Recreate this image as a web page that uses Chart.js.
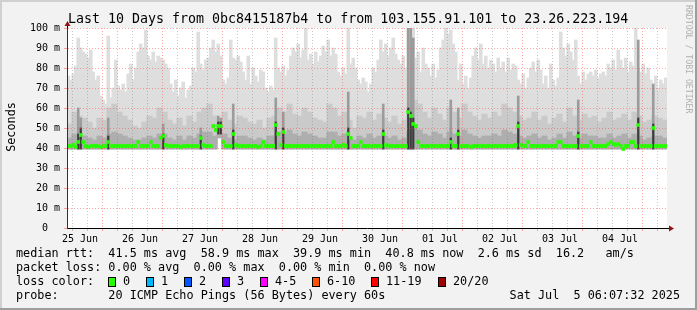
<!DOCTYPE html>
<html>
<head>
<meta charset="utf-8">
<script src="https://cdn.jsdelivr.net/npm/chart.js@4/dist/chart.umd.min.js"></script>
<style>
html, body { margin: 0; padding: 0; background: #f2f2f2; }
canvas { display: block; }
</style>
</head>
<body>
<canvas id="c" width="697" height="310" style="width:697px;height:310px"></canvas>
<script>
const MONO = '"DejaVu Sans Mono", monospace'
const SMOKE_FLOOR = 39.5

// hours are counted from the left edge of the graph, one value per hour
const dayLabels = ['25 Jun', '26 Jun', '27 Jun', '28 Jun', '29 Jun', '30 Jun', '01 Jul', '02 Jul', '03 Jul', '04 Jul']
const firstNoon = 5.2 // 25 Jun 12:00, in hours after graph start

// slowest of the 20 pings (ms), hourly
const maxRtt = [
	76, 74, 77, 81, 95, 90, 88, 87, 85, 89,
	78, 74, 76, 66, 64, 62, 96, 65, 70, 84,
	71, 69, 72, 68, 77, 82, 74, 80, 88, 92,
	90, 99, 86, 84, 88, 83, 86, 85, 84, 82,
	80, 72, 68, 74, 66, 70, 73, 65, 69, 71,
	80, 78, 98, 82, 79, 84, 85, 90, 94, 88,
	92, 86, 74, 72, 75, 94, 85, 84, 86, 83,
	78, 74, 86, 72, 80, 76, 73, 79, 78, 70,
	68, 71, 69, 95, 80, 78, 81, 76, 79, 86,
	90, 88, 92, 85, 89, 100, 84, 87, 82, 88,
	83, 86, 91, 88, 94, 86, 90, 87, 78, 76,
	80, 77, 100, 82, 85, 80, 74, 72, 75, 73,
	68, 72, 80, 78, 84, 94, 88, 92, 86, 90,
	95, 87, 84, 82, 86, 80, 100, 100, 100, 85,
	88, 78, 90, 82, 80, 76, 82, 75, 79, 90,
	94, 100, 97, 99, 92, 88, 74, 82, 72, 76,
	70, 75, 86, 90, 84, 92, 82, 86, 80, 84,
	82, 78, 85, 80, 83, 78, 85, 79, 82, 81,
	74, 72, 77, 70, 75, 80, 83, 78, 84, 79,
	72, 76, 70, 82, 74, 71, 75, 98, 90, 86,
	92, 88, 84, 94, 76, 72, 78, 74, 77, 78,
	76, 79, 75, 77, 78, 76, 82, 80, 84, 79,
	89, 84, 80, 85, 78, 83, 81, 100, 80, 78,
	82, 77, 80, 74, 72, 76, 70, 74, 72, 75
]

// upper part of the dense smoke (ms), two-hourly
const upperRtt = [
	52, 58, 56, 55, 53, 50, 55, 54, 60, 62,
	58, 56, 54, 51, 50, 53, 56, 55, 60, 58,
	54, 52, 55, 51, 56, 53, 58, 60, 62, 56,
	55, 58, 54, 52, 56, 55, 53, 52, 54, 50,
	55, 56, 60, 58, 62, 57, 56, 60, 58, 55,
	54, 53, 62, 60, 56, 58, 54, 50, 56, 55,
	58, 54, 57, 55, 53, 56, 52, 54, 60, 64,
	62, 58, 55, 60, 57, 54, 60, 58, 55, 62,
	58, 56, 54, 57, 55, 58, 56, 62, 60, 58,
	56, 54, 55, 58, 54, 56, 52, 55, 57, 53,
	60, 56, 54, 57, 55, 56, 53, 55, 58, 54,
	55, 57, 54, 58, 56, 53, 54, 56, 55, 54
]

// lower, darkest part of the smoke (ms), two-hourly
const lowerRtt = [
	45, 47, 46, 46, 45, 44, 46, 45, 47, 48,
	47, 46, 45, 44, 44, 45, 46, 45, 47, 47,
	45, 44, 46, 44, 46, 45, 47, 48, 48, 46,
	45, 47, 45, 44, 46, 46, 45, 44, 45, 44,
	46, 46, 48, 47, 49, 47, 46, 48, 47, 46,
	45, 45, 48, 48, 46, 47, 45, 44, 46, 45,
	47, 45, 46, 46, 45, 46, 44, 45, 48, 50,
	49, 47, 46, 48, 47, 45, 48, 47, 46, 49,
	47, 46, 45, 46, 46, 47, 46, 49, 48, 47,
	46, 45, 46, 47, 45, 46, 44, 45, 47, 45,
	48, 46, 45, 47, 46, 46, 45, 45, 47, 45,
	46, 47, 45, 47, 46, 44, 45, 46, 46, 45
]

// median rtt (ms), hourly
const medianRtt = [
	41, 41, 41.5, 40.5, 43, 46.5, 43, 41, 40.5, 41,
	41, 41, 41, 40.5, 41, 41, 43, 41, 41, 41,
	41, 41, 41, 41, 41, 41, 41, 41, 43, 41,
	41, 41, 41, 43, 41, 41, 41, 45, 46, 41.5,
	41, 41, 41, 41, 41, 40.5, 41, 41, 41, 41,
	41, 41, 41, 45, 41.5, 41, 41, 41, 51, 49,
	51, 51, 43, 41, 41, 41, 47, 41.5, 41, 41,
	41, 41, 41, 41, 41, 41, 40.5, 41, 43, 41,
	41, 41, 41, 51.5, 47, 41.5, 48, 41, 41, 41,
	41, 41, 41, 41, 41, 41, 41, 41, 41, 41,
	41, 41, 41, 41, 41, 41, 43, 41, 41, 41,
	41.5, 41, 47, 45, 41, 41, 41, 43, 41, 41,
	41, 41, 41, 41, 41, 41, 47, 41.5, 41, 41,
	41, 41, 41, 41, 41, 41, 58, 56, 52, 51,
	43, 41, 41, 41, 41, 41, 41, 41, 41, 41,
	41, 41, 41, 43, 41, 41, 47, 41, 41, 41,
	41, 40.5, 41, 41, 41, 41, 41, 41, 41, 41,
	41, 41, 41, 41, 41, 41, 41, 41, 41, 41.5,
	51, 41.5, 41, 41, 43, 41, 41, 41, 41, 41,
	41, 41, 41, 41, 41, 41, 43, 43, 41, 41,
	41, 41, 41, 41, 46, 41, 41, 41, 41, 43,
	41, 41, 41, 41, 41, 41, 42, 43, 42, 41.5,
	42, 41, 39.5, 41, 41, 43, 43, 41, 51.5, 41,
	41, 41, 41, 41, 50, 41, 41, 41, 41, 41
]

// hours where the smoke turns dark around a median spike
const spikeHours = [4, 5, 16, 38, 53, 60, 61, 66, 83, 86, 112, 126, 136, 137, 138, 153, 156, 180, 204, 228, 234]
const spikeOuter = [60, 55, 55, 52, 50, 56, 55, 62, 65, 58, 68, 62, 100, 100, 95, 64, 60, 66, 64, 94, 72]
const spikeCore = [47, 50, 46, 47, 46, 53, 53, 49, 53, 50, 50, 49, 60, 58, 55, 45, 49, 53, 48, 55, 52]

// hours where even the fastest ping stayed high
const floorHours = [60, 61]
const floorValues = [47, 47]

const titleText = 'Last 10 Days from 0bc8415187b4 to from 103.155.91.101 to 23.26.223.194'
const statLines = [
	'median rtt:  41.5 ms avg  58.9 ms max  39.9 ms min  40.8 ms now  2.6 ms sd  16.2   am/s',
	'packet loss: 0.00 % avg  0.00 % max  0.00 % min  0.00 % now'
]
const lossLabels = ['0', '1', '2', '3', '4-5', '6-10', '11-19', '20/20']
const lossColors = ['#26ff00', '#00b8ff', '#0059ff', '#5e00ff', '#ff00fe', '#ff5500', '#ff0000', '#a10000']
const probeText = '20 ICMP Echo Pings (56 Bytes) every 60s'
const stampText = 'Sat Jul  5 06:07:32 2025'

const MAJOR = 'rgba(255, 60, 60, 0.45)'
const MINOR = 'rgba(120, 120, 120, 0.4)'

function floorAt(h) {
	let k = floorHours.indexOf(h)
	return k >= 0 ? floorValues[k] : SMOKE_FLOOR
}

const tickHours = []
for (let k = 0; k < 40; k++) tickHours.push(firstNoon + 6 * k)

function barSet(label, data, color, thickness, order) {
	return { label, data, backgroundColor: color, borderWidth: 0, barThickness: thickness, grouped: false, order }
}

const datasets = [
	barSet('max', maxRtt.map((v, i) => ({ x: i + 0.5, y: [floorAt(i), v] })), '#dedede', 3, 6),
	barSet('upper', upperRtt.map((v, j) => ({ x: 2 * j + 1, y: [floorAt(2 * j), v] })), '#cacaca', 5.5, 5),
	barSet('lower', lowerRtt.map((v, j) => ({ x: 2 * j + 1, y: [floorAt(2 * j), v] })), '#aeaeae', 5.5, 4),
	barSet('spike', spikeHours.map((h, k) => ({ x: h + 0.5, y: [floorAt(h), spikeOuter[k]] })), '#9c9c9c', 2, 3),
	barSet('core', spikeHours.map((h, k) => ({ x: h + 0.5, y: [floorAt(h), spikeCore[k]] })), '#3c3c3c', 1.5, 2),
	barSet('median', medianRtt.map((v, i) => ({ x: i + 0.5, y: [v - 0.75, v + 0.75] })), '#26ff00', 3, 1)
]

const decor = {
	id: 'decor',
	beforeDraw(chart) {
		const { ctx, width, height, chartArea: a } = chart
		ctx.save()
		ctx.fillStyle = '#f2f2f2'
		ctx.fillRect(0, 0, width, height)
		ctx.fillStyle = '#d0d0d0'
		ctx.fillRect(0, 0, width, 2)
		ctx.fillRect(0, 0, 2, height)
		ctx.fillStyle = '#9e9e9e'
		ctx.fillRect(0, height - 2, width, 2)
		ctx.fillRect(width - 2, 0, 2, height)
		ctx.fillStyle = '#ffffff'
		ctx.fillRect(a.left, a.top, a.right - a.left, a.bottom - a.top)
		ctx.restore()
	},
	afterDraw(chart) {
		const { ctx, chartArea: a } = chart
		ctx.save()
		// axis extensions and arrows
		ctx.strokeStyle = '#000'
		ctx.lineWidth = 1
		ctx.beginPath()
		ctx.moveTo(a.left + 0.5, a.top)
		ctx.lineTo(a.left + 0.5, a.top - 4)
		ctx.moveTo(a.right, a.bottom + 0.5)
		ctx.lineTo(a.right + 3, a.bottom + 0.5)
		ctx.stroke()
		ctx.fillStyle = '#8e1414'
		ctx.beginPath()
		ctx.moveTo(a.left + 0.5, a.top - 7)
		ctx.lineTo(a.left - 2.5, a.top - 2)
		ctx.lineTo(a.left + 3.5, a.top - 2)
		ctx.fill()
		ctx.beginPath()
		ctx.moveTo(a.right + 7, a.bottom + 0.5)
		ctx.lineTo(a.right + 2, a.bottom - 2.5)
		ctx.lineTo(a.right + 2, a.bottom + 3.5)
		ctx.fill()

		// title
		ctx.fillStyle = '#000'
		ctx.font = '13.3px ' + MONO
		ctx.textAlign = 'left'
		ctx.textBaseline = 'alphabetic'
		ctx.fillText(titleText, 68, 23)

		// y title
		ctx.save()
		ctx.translate(12, 127)
		ctx.rotate(-Math.PI / 2)
		ctx.font = '11.8px ' + MONO
		ctx.textAlign = 'center'
		ctx.textBaseline = 'middle'
		ctx.fillText('Seconds', 0, 0)
		ctx.restore()

		// watermark
		ctx.save()
		ctx.translate(688, 5)
		ctx.rotate(Math.PI / 2)
		ctx.font = '8.2px ' + MONO
		ctx.fillStyle = '#b0b0b0'
		ctx.textBaseline = 'middle'
		ctx.fillText('RRDTOOL / TOBI OETIKER', 0, 0)
		ctx.restore()

		// legend
		ctx.font = '11.8px ' + MONO
		ctx.textBaseline = 'middle'
		ctx.fillText(statLines[0], 16, 254)
		ctx.fillText(statLines[1], 16, 268)
		ctx.fillText('loss color:', 16, 282)
		let x = Math.round(16 + ctx.measureText('loss color:  ').width)
		lossLabels.forEach((lab, k) => {
			ctx.fillStyle = lossColors[k]
			ctx.fillRect(x, 277, 8, 10)
			ctx.strokeStyle = '#000'
			ctx.strokeRect(x + 0.5, 277.5, 7, 9)
			ctx.fillStyle = '#000'
			ctx.fillText(lab, x + 15, 282)
			x = Math.round(x + 15 + ctx.measureText(lab).width + 16)
		})
		ctx.fillText('probe:', 16, 296)
		ctx.fillText(probeText, 16 + ctx.measureText('probe:       ').width, 296)
		ctx.textAlign = 'right'
		ctx.fillText(stampText, 680, 296)
		ctx.restore()
	}
}

new Chart(document.getElementById('c'), {
	type: 'bar',
	data: { datasets },
	options: {
		responsive: false,
		animation: false,
		devicePixelRatio: 1,
		layout: { padding: { left: 0, right: 30, top: 28, bottom: 0 } },
		plugins: { legend: { display: false }, tooltip: { enabled: false }, title: { display: false } },
		scales: {
			x: {
				type: 'linear',
				min: 0,
				max: 240,
				offset: false,
				afterBuildTicks: (scale) => { scale.ticks = tickHours.map(v => ({ value: v })) },
				afterFit: (scale) => { scale.height = 82 },
				ticks: {
					autoSkip: false,
					maxRotation: 0,
					padding: 2,
					color: '#000',
					font: { family: MONO, size: 10 },
					callback: (v, i) => (i % 4 === 0 ? dayLabels[i / 4] : '')
				},
				grid: {
					z: 1,
					color: (ctx) => ((ctx.index - 2) % 4 === 0 ? MAJOR : MINOR),
					tickLength: 3
				},
				border: { z: 2, color: '#000', width: 1, dash: [1, 2] }
			},
			y: {
				min: 0,
				max: 100,
				afterFit: (scale) => { scale.width = 67 },
				ticks: {
					stepSize: 5,
					padding: 4,
					color: '#000',
					font: { family: MONO, size: 10 },
					callback: (v) => (v % 10 ? '' : (v === 0 ? '0  ' : v + ' m'))
				},
				grid: {
					z: 1,
					color: (ctx) => (ctx.tick.value % 10 === 0 ? MAJOR : MINOR),
					tickLength: 3
				},
				border: { z: 2, color: '#333', width: 1, dash: [1, 2] }
			}
		}
	},
	plugins: [decor]
})
</script>
</body>
</html>
